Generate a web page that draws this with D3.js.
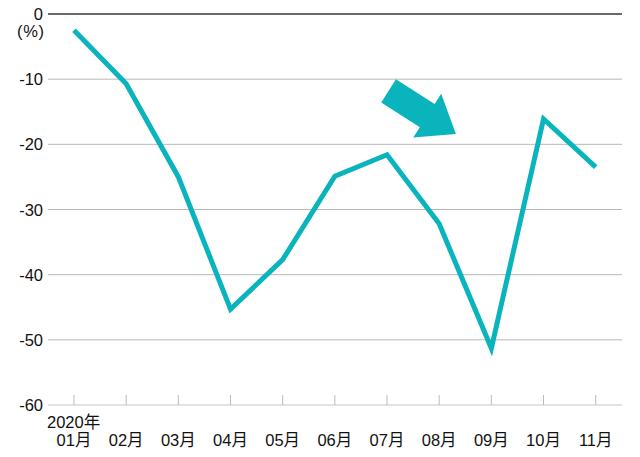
<!DOCTYPE html>
<html><head><meta charset="utf-8">
<script src="https://cdn.jsdelivr.net/npm/d3@7"></script>
<style>
html,body{margin:0;padding:0;background:#fff;}
text{font-family:"Liberation Sans","Noto Sans CJK JP",Arial,sans-serif;}
</style></head>
<body><svg id="c" width="640" height="457"></svg>
<script>
const months = ["01月","02月","03月","04月","05月","06月","07月","08月","09月","10月","11月"];
const values = [-2.5,-10.7,-25.0,-45.3,-37.7,-24.9,-21.6,-32.2,-51.3,-16.1,-23.5];
const yTicks = [0,-10,-20,-30,-40,-50,-60];
const yearLabel = "2020年";
const unitLabel = "(%)";
// annotation arrow: tail and tip in data space (month index, value)
const arrowTail = [6.03,-11.8];
const arrowTip = [7.32,-18.4];

(function(){
const svg = d3.select("#c");
const mLeft = 48, mRight = 622, mTop = 14, mBottom = 405;
const x = d3.scalePoint().domain(d3.range(months.length)).range([74, 595.7]);
const xl = d3.scaleLinear().domain([0, months.length-1]).range([74,595.7]);
const y = d3.scaleLinear().domain([-60,0]).range([mBottom, mTop]);
const color = "#0ab4bc";

svg.append("g").selectAll("line").data(yTicks.filter(d=>d!==0 && d!==-60)).join("line")
  .attr("x1",mLeft).attr("x2",mRight).attr("y1",d=>y(d)).attr("y2",d=>y(d))
  .attr("stroke","#b8b8b8").attr("stroke-width",1);
svg.append("line").attr("x1",mLeft).attr("x2",mRight).attr("y1",y(-60)).attr("y2",y(-60))
  .attr("stroke","#c8c8c8").attr("stroke-width",1.2);
svg.append("g").selectAll("line").data(d3.range(months.length)).join("line")
  .attr("x1",d=>x(d)).attr("x2",d=>x(d)).attr("y1",y(-60)-10).attr("y2",y(-60))
  .attr("stroke","#bbb").attr("stroke-width",1);
svg.append("line").attr("x1",mLeft).attr("x2",mRight).attr("y1",y(0)).attr("y2",y(0))
  .attr("stroke","#6a6a6a").attr("stroke-width",2);

svg.append("g").selectAll("text").data(yTicks).join("text")
  .attr("x",43).attr("y",d=>y(d)+6).attr("text-anchor","end")
  .attr("font-size",16.5).attr("fill","#111").text(d=>d);
svg.append("text").attr("x",17).attr("y",37).attr("font-size",16.5)
  .attr("textLength",27).attr("lengthAdjust","spacing").attr("fill","#111").text(unitLabel);

svg.append("g").selectAll("text").data(months).join("text")
  .attr("x",(d,i)=>x(i)).attr("y",446).attr("text-anchor","middle")
  .attr("font-size",16.5).attr("fill","#111").text(d=>d);
svg.append("text").attr("x",47).attr("y",428).attr("font-size",16.5).attr("fill","#111").text(yearLabel);

svg.append("path").datum(values)
  .attr("d", d3.line().x((d,i)=>x(i)).y(d=>y(d)))
  .attr("fill","none").attr("stroke",color).attr("stroke-width",5)
  .attr("stroke-linejoin","miter").attr("stroke-linecap","butt");

const tx = xl(arrowTail[0]), ty = y(arrowTail[1]);
const px = xl(arrowTip[0]), py = y(arrowTip[1]);
const L = Math.hypot(px-tx, py-ty);
const ux = (px-tx)/L, uy = (py-ty)/L, nx = -uy, ny = ux;
const sw = 13.7, hw = 26, hl = 34;
const bx = px-ux*hl, by = py-uy*hl;
const pts = [
  [tx+nx*sw, ty+ny*sw],[bx+nx*sw, by+ny*sw],[bx+nx*hw, by+ny*hw],[px,py],
  [bx-nx*hw, by-ny*hw],[bx-nx*sw, by-ny*sw],[tx-nx*sw, ty-ny*sw]];
svg.append("path").attr("d", d3.line()(pts)+"Z").attr("fill",color);
})();
</script></body></html>
